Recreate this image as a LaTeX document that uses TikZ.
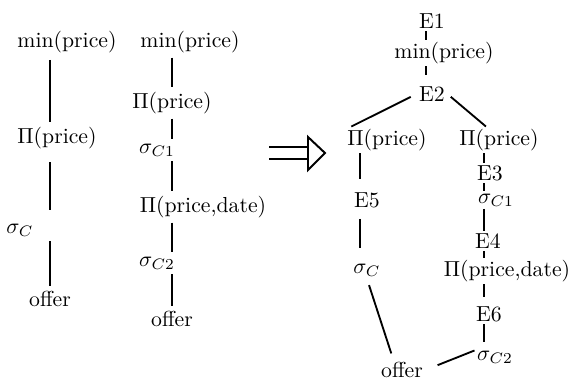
\documentclass[tikz,border=0pt]{standalone}
\usetikzlibrary{calc}

\begin{document}
\begin{tikzpicture}[x=0.46pt,y=-0.46pt,
    op/.style={inner sep=2pt},
    ep/.style={inner sep=1pt},
    link/.style={line width=0.85pt}]
  \useasboundingbox (0,0) rectangle (574,381);
  % first plan
  \coordinate (colA) at (50,0);
  \node[op] (a1) at (67,42) {min(price)};
  \node[op] (a2) at (57,138) {$\Pi$(price)};
  \node[op] (a3) at (20,230) {$\sigma_C$};
  \node[op] (a4) at (50,299) {offer};
  \draw[link, shorten <=1pt] (a1.south -| colA) -- (a2.north -| colA);
  \draw[link, shorten <=4pt, shorten >=4pt] (a2.south -| colA) -- (a3.north -| colA);
  \draw[link] (a3.south -| colA) -- (a4.north -| colA);
  % second plan
  \coordinate (colB) at (172,0);
  \node[op] (b1) at (190,42) {min(price)};
  \node[op] (b2) at (172,103) {$\Pi$(price)};
  \node[op] (b3) at (157,150) {$\sigma_{C1}$};
  \node[op] (b4) at (203,207) {$\Pi$(price,date)};
  \node[op] (b5) at (157,263) {$\sigma_{C2}$};
  \node[op] (b6) at (172,319) {offer};
  \draw[link] (b1.south -| colB) -- (b2.north -| colB);
  \draw[link] (b2.south -| colB) -- (b3.north -| colB);
  \draw[link] (b3.south -| colB) -- (b4.north -| colB);
  \draw[link] (b4.south -| colB) -- (b5.north -| colB);
  \draw[link] (b5.south -| colB) -- (b6.north -| colB);
  % rewrite arrow
  \draw[line width=0.9pt] (269,147) -- (308,147) (269,159) -- (308,159)
    (308,137) -- (325,153) -- (308,170) -- cycle;
  % expression graph
  \coordinate (colE) at (426,0);
  \coordinate (colL) at (360,0);
  \coordinate (colR) at (484,0);
  \node[ep] (e1) at (432,21) {E1};
  \node[ep] (m) at (444,53) {min(price)};
  \node[ep] (e2) at (432,94) {E2};
  \node[ep] (pl) at (387,140) {$\Pi$(price)};
  \node[ep] (pr) at (499,140) {$\Pi$(price)};
  \node[ep] (e5) at (367,200) {E5};
  \node[ep] (sc) at (367,270) {$\sigma_C$};
  \node[ep] (e3) at (490,173) {E3};
  \node[ep] (sc1) at (496,200) {$\sigma_{C1}$};
  \node[ep] (e4) at (488,241) {E4};
  \node[ep] (pd) at (507,271) {$\Pi$(price,date)};
  \node[ep] (e6) at (489,314) {E6};
  \node[ep] (sc2) at (495,357) {$\sigma_{C2}$};
  \node[ep] (of) at (402,370) {offer};
  \draw[link] (e1.south -| colE) -- (m.north -| colE);
  \draw[link, shorten >=4pt] (m.south -| colE) -- (e2.north -| colE);
  \draw[link, shorten <=3pt] (e2.west) -- ([xshift=3pt]pl.north west);
  \draw[link, shorten <=2pt] (e2.east) -- ([xshift=-6pt]pr.north);
  \draw[link, shorten >=5pt] (pl.south -| colL) -- (e5.north -| colL);
  \draw[link, shorten <=4pt, shorten >=6pt] (e5.south -| colL) -- (sc.north -| colL);
  \draw[link, shorten <=3pt, shorten >=3pt] (sc.south) -- ([xshift=-4pt]of.north);
  \draw[link] (pr.south -| colR) -- (e3.north -| colR);
  \draw[link] (e3.south -| colR) -- (sc1.north -| colR);
  \draw[link] (sc1.south -| colR) -- (e4.north -| colR);
  \draw[link] (e4.south -| colR) -- (pd.north -| colR);
  \draw[link, shorten >=3pt] (pd.south -| colR) -- (e6.north -| colR);
  \draw[link, shorten >=3pt] (e6.south -| colR) -- (sc2.north -| colR);
  \draw[link, shorten <=6pt] (of.east) -- ([yshift=3pt]sc2.west);
\end{tikzpicture}
\end{document}
